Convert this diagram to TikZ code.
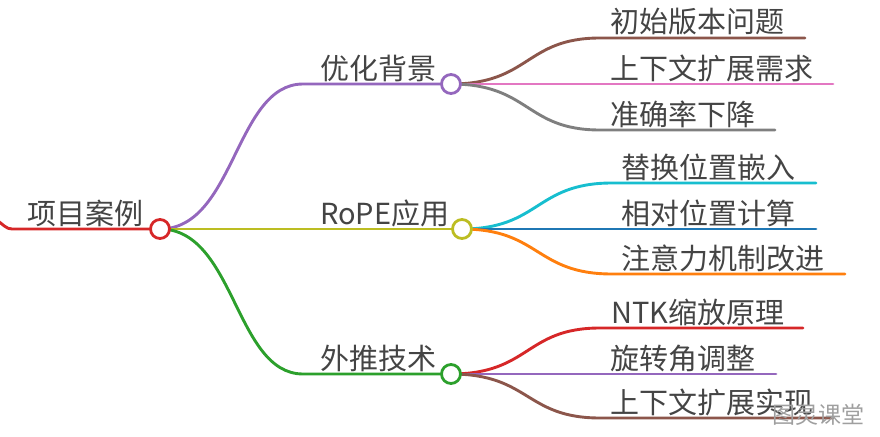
\documentclass[tikz,border=0pt]{standalone}
\usepackage{fontspec}
\setmainfont{Noto Sans CJK SC}
\definecolor{txt}{HTML}{444444}
\definecolor{cRed}{HTML}{D62728}
\definecolor{cPurple}{HTML}{9467BD}
\definecolor{cOlive}{HTML}{BCBD22}
\definecolor{cGreen}{HTML}{2CA02C}
\definecolor{cBrown}{HTML}{8C564B}
\definecolor{cPink}{HTML}{E377C2}
\definecolor{cGray}{HTML}{7F7F7F}
\definecolor{cCyan}{HTML}{17BECF}
\definecolor{cBlue}{HTML}{1F77B4}
\definecolor{cOrange}{HTML}{FF7F0E}
\begin{document}
\begin{tikzpicture}[x=1pt,y=-1pt,
  lbl/.style={anchor=base west, inner sep=0pt, font=\fontsize{29}{33}\selectfont, text=txt},
  dot/.style={circle, draw, line width=2.8pt, fill=white, minimum size=19pt, inner sep=0pt},
  edge/.style={line width=2.9pt, line cap=round}]
\useasboundingbox (0,0) rectangle (880,436);

% coordinates for horizontal segment starts
\coordinate (r0) at (-6,218);
\coordinate (r1) at (12,229);
\coordinate (a1) at (303,84);
\coordinate (a3) at (303,374);
\coordinate (b1) at (600,38);  \coordinate (b1e) at (805,38);
\coordinate (b2e) at (833,84);
\coordinate (b3) at (600,130); \coordinate (b3e) at (775,130);
\coordinate (c1) at (612,183); \coordinate (c1e) at (816,183);
\coordinate (c2e) at (816,229);
\coordinate (c3) at (612,274); \coordinate (c3e) at (845,274);
\coordinate (d1) at (600,328); \coordinate (d1e) at (803,328);
\coordinate (d2e) at (776,374);
\coordinate (d3) at (600,418); \coordinate (d3e) at (833,418);

% level 1 edges
\draw[edge, cRed] (r0) .. controls (4,225) and (6,229) .. (r1) -- (160,229);
\draw[edge, cPurple] (160,229) .. controls (235,229) and (235,84) .. (a1) -- (451,84);
\draw[edge, cOlive] (160,229) -- (462,229);
\draw[edge, cGreen] (160,229) .. controls (235,229) and (235,374) .. (a3) -- (451,374);

% level 2 edges
\draw[edge, cBrown] (451,84) .. controls (530,84) and (525,38) .. (b1) -- (b1e);
\draw[edge, cPink] (451,84) -- (b2e);
\draw[edge, cGray] (451,84) .. controls (530,84) and (525,130) .. (b3) -- (b3e);

\draw[edge, cCyan] (462,229) .. controls (540,229) and (535,183) .. (c1) -- (c1e);
\draw[edge, cBlue] (462,229) -- (c2e);
\draw[edge, cOrange] (462,229) .. controls (540,229) and (535,274) .. (c3) -- (c3e);

\draw[edge, cRed] (451,374) .. controls (530,374) and (525,328) .. (d1) -- (d1e);
\draw[edge, cPurple] (451,374) -- (d2e);
\draw[edge, cBrown] (451,374) .. controls (530,374) and (525,418) .. (d3) -- (d3e);

% circles
\node[dot, draw=cRed] (root) at (160,229) {};
\node[dot, draw=cPurple] (n1) at (451,84) {};
\node[dot, draw=cOlive] (n2) at (462,229) {};
\node[dot, draw=cGreen] (n3) at (451,374) {};

% labels
\node[lbl] (t0) at (27,224) {项目案例};
\node[lbl] (t1) at (320,79) {优化背景};
\node[lbl] (t2) at (320,224) {RoPE应用};
\node[lbl] (t3) at (320,369) {外推技术};
\node[lbl] (t11) at (610,33) {初始版本问题};
\node[lbl] (t12) at (610,79) {上下文扩展需求};
\node[lbl] (t13) at (610,125) {准确率下降};
\node[lbl] (t21) at (621,178) {替换位置嵌入};
\node[lbl] (t22) at (621,224) {相对位置计算};
\node[lbl] (t23) at (621,269) {注意力机制改进};
\node[lbl] (t31) at (611,323) {NTK缩放原理};
\node[lbl] (t32) at (610,369) {旋转角调整};
\node[lbl] (t33) at (610,413) {上下文扩展实现};

% watermark
\node[anchor=base west, inner sep=0pt, font=\fontsize{23}{26}\selectfont, text=gray!75] (wm) at (772,423) {图灵课堂};
\end{tikzpicture}
\end{document}
